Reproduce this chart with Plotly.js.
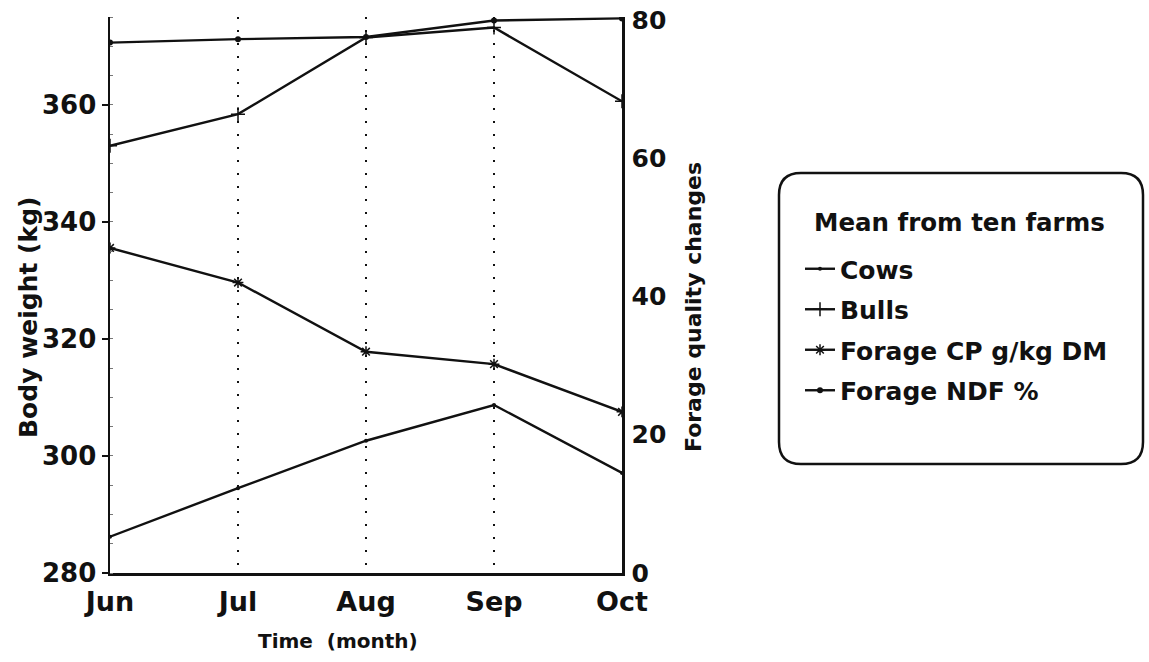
<!DOCTYPE html>
<html>
<head>
<meta charset="utf-8">
<script src="https://cdn.plot.ly/plotly-3.0.1.min.js"></script>
<style>html,body{margin:0;padding:0;background:#fff;}#chart{width:1149px;height:662px;}</style>
</head>
<body>
<div id="chart"></div>
<script>
const months = ["Jun", "Jul", "Aug", "Sep", "Oct"];
const cows = [286.2, 294.5, 302.6, 308.7, 297.1];
const bulls = [353.0, 358.4, 371.5, 373.2, 360.6];
const forageCP = [47.0, 42.0, 32.0, 30.2, 23.3];
const forageNDF = [76.7, 77.2, 77.5, 79.9, 80.2];
const leftTicks = [280, 300, 320, 340, 360];
const rightTicks = [0, 20, 40, 60, 80];

const F = "DejaVu Sans, Liberation Sans, Arial, sans-serif";
const lineStyle = {color: "#111", width: 2.4};

const traces = [
  {x: months, y: cows, name: "Cows", type: "scatter", mode: "lines+markers",
   line: lineStyle, marker: {symbol: "circle", size: 4, color: "#111"}, legendgroup: "a"},
  {x: months, y: bulls, name: "Bulls", type: "scatter", mode: "lines+markers",
   line: lineStyle, marker: {symbol: "cross-thin", size: 10, color: "#111", line: {width: 1.5, color: "#111"}}, legendgroup: "b"},
  {x: months, y: forageCP, name: "Forage CP g/kg DM", type: "scatter", mode: "lines+markers", yaxis: "y2",
   line: lineStyle, marker: {symbol: "asterisk", size: 9, color: "#111", line: {width: 1.5, color: "#111"}}, legendgroup: "c"},
  {x: months, y: forageNDF, name: "Forage NDF %", type: "scatter", mode: "lines+markers", yaxis: "y2",
   line: lineStyle, marker: {symbol: "circle", size: 6, color: "#111"}, legendgroup: "d"}
];

// paper helpers (plot area: x 110..622, y 17..573 px)
const L = 110, R = 622, T = 17, B = 573;
const px = v => (v - L) / (R - L);
const py = v => (B - v) / (B - T);
function roundedBox(x0, y0, x1, y1, r) {
  const p = [];
  p.push("M " + px(x0 + r) + " " + py(y0));
  p.push("L " + px(x1 - r) + " " + py(y0));
  p.push("Q " + px(x1) + " " + py(y0) + " " + px(x1) + " " + py(y0 + r));
  p.push("L " + px(x1) + " " + py(y1 - r));
  p.push("Q " + px(x1) + " " + py(y1) + " " + px(x1 - r) + " " + py(y1));
  p.push("L " + px(x0 + r) + " " + py(y1));
  p.push("Q " + px(x0) + " " + py(y1) + " " + px(x0) + " " + py(y1 - r));
  p.push("L " + px(x0) + " " + py(y0 + r));
  p.push("Q " + px(x0) + " " + py(y0) + " " + px(x0 + r) + " " + py(y0));
  p.push("Z");
  return p.join(" ");
}

const layout = {
  width: 1149, height: 662,
  margin: {l: L, r: 1149 - R, t: T, b: 662 - B, pad: 0},
  paper_bgcolor: "#fff", plot_bgcolor: "#fff",
  font: {family: F, color: "#111", weight: "bold"},
  showlegend: true,
  xaxis: {
    type: "category", categoryorder: "array", categoryarray: months,
    range: [0, 4], showline: true, linecolor: "#111", linewidth: 2.5,
    ticks: "", showgrid: true, gridcolor: "#111", griddash: "2px,11px", gridwidth: 2.5,
    zeroline: false, tickfont: {family: F, size: 27, weight: "bold", color: "#111"},
    ticklabelstandoff: 3
  },
  yaxis: {
    range: [280, 375], tickvals: leftTicks, showline: true, linecolor: "#111", linewidth: 2.5,
    ticks: "outside", ticklen: 6, tickwidth: 2, tickcolor: "#111",
    showgrid: false, zeroline: false,
    minor: {ticks: "inside", dtick: 5, ticklen: 3, tickwidth: 1, tickcolor: "#777", showgrid: false},
    tickfont: {family: F, size: 26, weight: "bold", color: "#111"}
  },
  yaxis2: {
    overlaying: "y", side: "right", range: [0, 80.4], tickvals: rightTicks,
    showline: true, linecolor: "#111", linewidth: 2.5, ticks: "", showgrid: false, zeroline: false,
    tickfont: {family: F, size: 25, weight: "bold", color: "#111"}, ticklabelstandoff: 2
  },
  legend: {
    x: px(800), y: py(246), xanchor: "left", yanchor: "top",
    bgcolor: "rgba(0,0,0,0)", borderwidth: 0,
    font: {family: F, size: 25, weight: "bold", color: "#111"},
    itemwidth: 30, tracegroupgap: 5, traceorder: "grouped"
  },
  annotations: [
    {text: "Mean from ten farms", xref: "paper", yref: "paper", x: px(812), y: py(222),
     xanchor: "left", yanchor: "middle", showarrow: false,
     font: {family: F, size: 24.5, weight: "bold", color: "#111"}},
    {text: "Time  (month)", xref: "paper", yref: "paper", x: px(338), y: py(641),
     xanchor: "center", yanchor: "middle",
     showarrow: false, font: {family: F, size: 20, weight: "bold", color: "#111"}},
    {text: "Body weight (kg)", xref: "paper", yref: "paper", x: px(28), y: py(318), textangle: -90,
     xanchor: "center", yanchor: "middle",
     showarrow: false, font: {family: F, size: 25, weight: "bold", color: "#111"}},
    {text: "Forage quality changes", xref: "paper", yref: "paper", x: px(693), y: py(307), textangle: -90,
     xanchor: "center", yanchor: "middle",
     showarrow: false, font: {family: F, size: 22, weight: "bold", color: "#111"}}
  ],
  shapes: [
    {type: "path", xref: "paper", yref: "paper", path: roundedBox(779, 173, 1143, 464, 22),
     line: {color: "#111", width: 2.5}, fillcolor: "rgba(0,0,0,0)"}
  ]
};

Plotly.newPlot("chart", traces, layout, {displayModeBar: false, staticPlot: true});
</script>
</body>
</html>
